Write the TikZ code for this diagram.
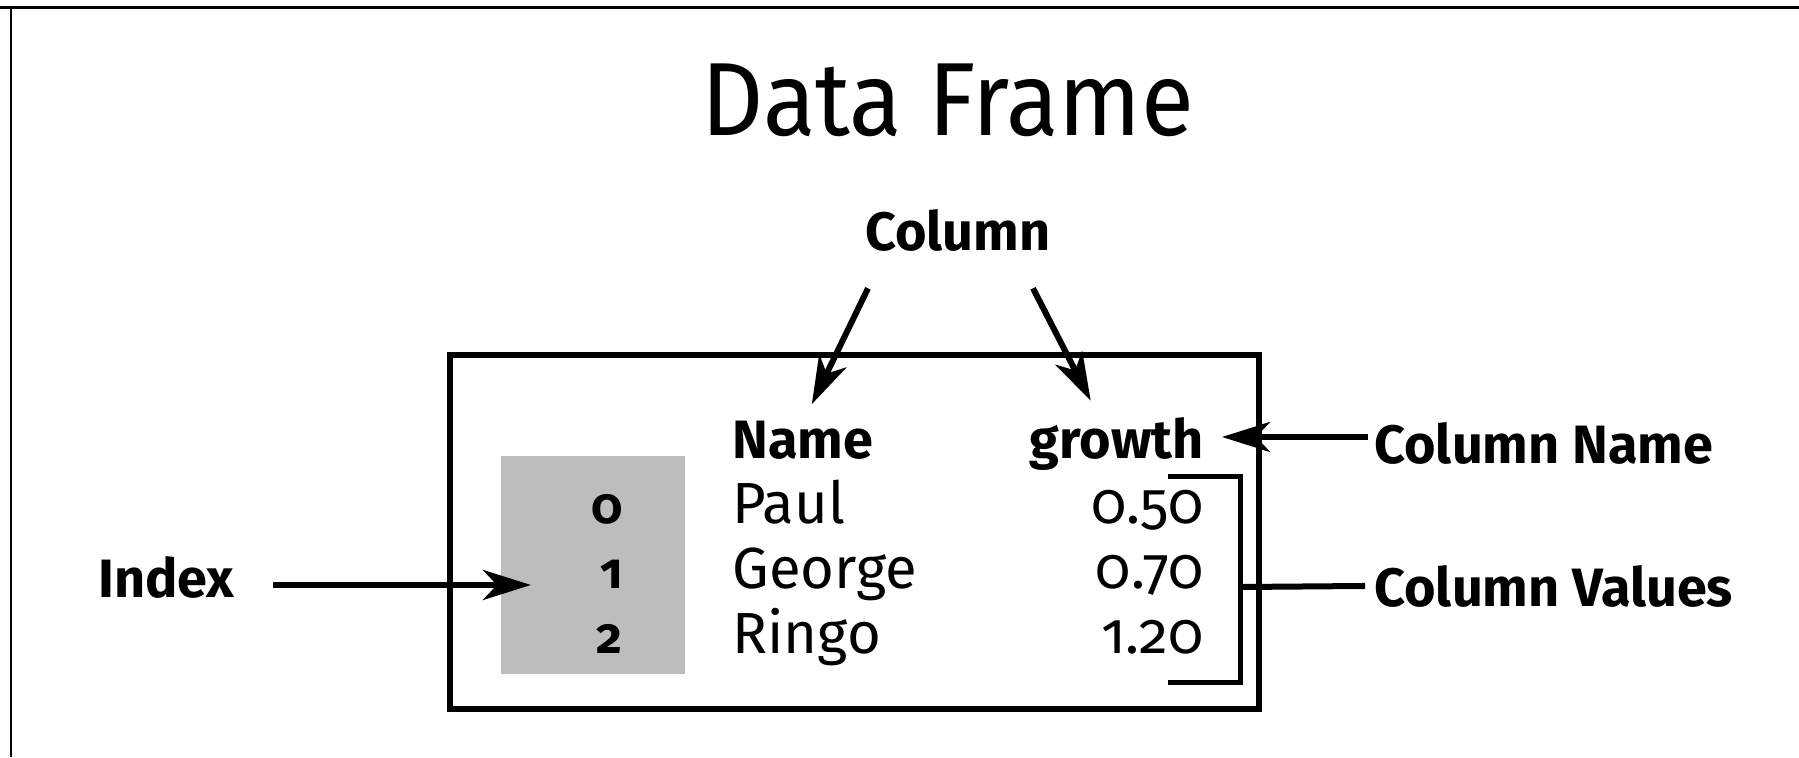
\documentclass[tikz,border=0pt]{standalone}
\usepackage{fontspec}
\setmainfont{Fira Sans}[Numbers=OldStyle]
\newfontfamily\titlefont{Fira Sans}[FakeStretch=0.93]
\usepackage{tikz}
\usepackage{xcolor}
\usetikzlibrary{
    arrows.meta,
    positioning
}
\definecolor{idxgray}{RGB}{189,189,189}
\tikzset{
    lbl/.style={font=\bfseries\fontsize{27}{31}\selectfont, inner sep=0pt},
    cell/.style={font=\fontsize{29}{33}\selectfont, inner sep=0pt},
    idxnum/.style={font=\bfseries\fontsize{25}{29}\selectfont, inner sep=0pt, anchor=base east},
    arr/.style={line width=3pt, -{Stealth[length=24pt,width=15pt,inset=7pt]}}
}

\begin{document}
\begin{tikzpicture}[x=0.5pt, y=-0.5pt]
    \useasboundingbox (0, 0) rectangle (1799, 757);
    \draw[line width=1.5pt] (0, 7) -- (1799, 7);
    \draw[line width=1pt] (11, 7) -- (11, 757);

    \node[font=\titlefont\fontsize{52}{60}\selectfont, inner sep=0pt, anchor=base] (title) at (948, 135) {Data Frame};

    % the frame itself
    \draw[line width=2.75pt] (450, 355) rectangle (1259, 709);
    \node[fill=idxgray, minimum width=92pt, minimum height=109pt, inner sep=0pt, anchor=north west] (idxbox) at (501, 456) {};

    \node[lbl, anchor=base] (col) at (958, 250) {Column};
    \node[lbl, anchor=base west] (nm) at (732, 458) {Name};
    \node[lbl, anchor=base east] (gr) at (1204, 458) {growth};
    \node[lbl, anchor=base west] (cn) at (1374, 463) {Column Name};
    \node[lbl, anchor=base west] (ix) at (98, 597) {Index};
    \node[lbl, anchor=base west] (cv) at (1374, 606) {Column Values};

    \node[idxnum] (i0) at (623, 523) {0};
    \node[idxnum] (i1) at (623, 588) {1};
    \node[idxnum] (i2) at (623, 653) {2};

    \node[cell, anchor=base west] (n0) at (732, 523) {Paul};
    \node[cell, anchor=base west] (n1) at (732, 588) {George};
    \node[cell, anchor=base west] (n2) at (732, 653) {Ringo};

    \node[cell, anchor=base east] (g0) at (1204, 523) {0.50};
    \node[cell, anchor=base east] (g1) at (1204, 588) {0.70};
    \node[cell, anchor=base east] (g2) at (1204, 653) {1.20};

    % bracket round the values
    \draw[line width=2.5pt] (1168, 476) -| (1240, 682) -- (1168, 682);
    \coordinate (brk) at (1240, 587);

    \draw[arr] ([shift={(-45pt,-18.5pt)}]col.south) -- ([shift={(4.5pt,8pt)}]nm.north);
    \draw[arr] ([shift={(37.5pt,-18.5pt)}]col.south) -- ([shift={(-13pt,8pt)}]gr.north);
    \draw[arr] ([shift={(-3pt,3pt)}]cn.west) -- ++(-146, 0);
    \draw[arr] ([shift={(19pt,-4pt)}]ix.east) -- ++(258, 0);
    \draw[line width=3pt] ([xshift=-4.5pt]cv.west) -- (brk);
\end{tikzpicture}
\end{document}
